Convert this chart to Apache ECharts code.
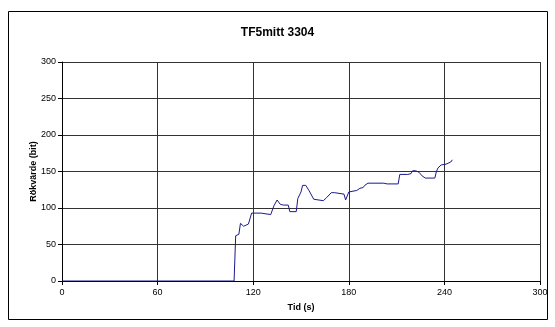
<!DOCTYPE html>
<html><head><meta charset="utf-8">
<script src="https://cdn.jsdelivr.net/npm/echarts@6/dist/echarts.min.js"></script>
<style>html,body{margin:0;padding:0;background:#fff}#c{width:555px;height:327px}</style>
</head><body><div id="c"></div>
<script>
var title = "TF5mitt 3304";
var xName = "Tid (s)";
var yName = "Rökvärde (bit)";
var times = [0,108,109,110,111,112,113,114,115,117,118,119,120,125,126,131,133,135,136,137,139,142,143,147,148,150,151,153,155,156,158,159,164,166,167,169,171,172,177,178,179,180,181,185,187,189,190,192,202,203,204,211,212,217,218,219,220,222,224,226,228,234,235,236,238,241,242,244,245];
var values = [0,0,62,62,64,79,79,75,76,78,80,93,93,93,91,91,103,111,110,105,104,104,95,95,113,122,131,131,124,122,112,110,110,114,116,121,121,119,119,111,111,122,123,124,127,128,131,134,134,135,133,133,146,146,144,147,151,151,149,144,141,141,150,155,159,160,161,163,166];
var data = times.map(function(t,i){return [t, values[i]];});
var chart = echarts.init(document.getElementById('c'));
var font = 'Liberation Sans, Arial, sans-serif';
chart.setOption({
  animation:false,
  textStyle:{fontFamily:font},
  title:{text:title,left:'center',top:22,textStyle:{fontSize:12,fontWeight:'bold',color:'#000',fontFamily:font}},
  graphic:[{type:'rect',shape:{x:8.5,y:11.5,width:539,height:308},style:{fill:'none',stroke:'#000',lineWidth:1},z:-1}],
  grid:{left:62,right:15,top:62,bottom:46},
  xAxis:{type:'value',min:0,max:300,interval:60,name:xName,nameLocation:'middle',nameGap:22,nameMoveOverlap:false,
    nameTextStyle:{fontSize:9,fontWeight:'bold',color:'#000',fontFamily:font},
    axisLine:{show:true,lineStyle:{color:'#000',width:1}},
    axisTick:{show:true,length:4,lineStyle:{color:'#000'}},
    axisLabel:{fontSize:9,color:'#000',margin:7,fontFamily:font},
    splitLine:{show:true,lineStyle:{color:'#333',width:1}}},
  yAxis:{type:'value',min:0,max:300,interval:50,name:yName,nameLocation:'middle',nameGap:24,nameMoveOverlap:false,
    nameTextStyle:{fontSize:9,fontWeight:'bold',color:'#000',fontFamily:font},
    axisLine:{show:true,lineStyle:{color:'#000',width:1}},
    axisTick:{show:true,length:4,lineStyle:{color:'#000'}},
    axisLabel:{fontSize:9,color:'#000',margin:6,fontFamily:font},
    splitLine:{show:true,lineStyle:{color:'#333',width:1}}},
  series:[{type:'line',data:data,showSymbol:false,lineStyle:{color:'#1a1a8c',width:1},z:5}]
});
</script></body></html>
